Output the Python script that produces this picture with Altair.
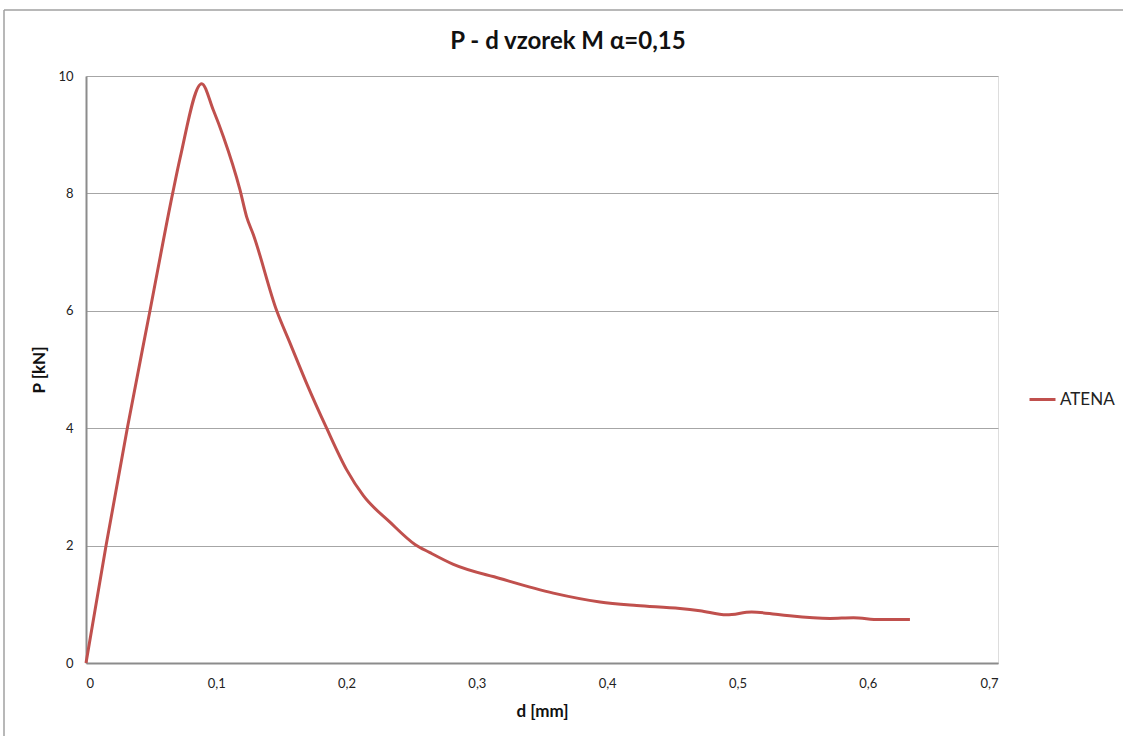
import altair as alt
import pandas as pd

# Data
d_mm = [0.0, 0.0154, 0.0317, 0.0491, 0.0665, 0.0722, 0.0888,
        0.0977, 0.1054, 0.1182, 0.1233, 0.1284, 0.1464, 0.1566, 0.1694,
        0.1847, 0.2001, 0.2129, 0.2333, 0.2525, 0.2640, 0.2820, 0.3177,
        0.3587, 0.3945, 0.4227, 0.4559, 0.4712, 0.4917, 0.5109, 0.5327,
        0.5710, 0.5890, 0.6090, 0.6324]
p_kn = [0.0, 2.0, 4.0, 6.0, 8.0, 8.6, 9.87,
        9.42, 8.97, 8.06, 7.6, 7.3, 6.0, 5.45, 4.76,
        4.0, 3.29, 2.85, 2.40, 2.02, 1.88, 1.68, 1.44,
        1.19, 1.04, 0.98, 0.93, 0.89, 0.82, 0.87, 0.82,
        0.76, 0.77, 0.74, 0.74]
series = ["ATENA"] * len(d_mm)

x_ticks = [0, 0.1, 0.2, 0.3, 0.4, 0.5, 0.6, 0.7]
y_ticks = [0, 2, 4, 6, 8, 10]
title_text = "P - d vzorek M α=0,15"

df = pd.DataFrame({"d": d_mm, "P": p_kn, "s": series})

FONT = "Lato"
W, H = 912, 587
L, T = 86, 76

line = alt.Chart(df).mark_line(strokeWidth=3, interpolate="monotone").encode(
    x=alt.X("d:Q", scale=alt.Scale(domain=[0, 0.7], nice=False),
            axis=alt.Axis(values=x_ticks, grid=False, ticks=False,
                          labelExpr="replace(format(datum.value, '.1~f'), '.', ',')",
                          labelFont=FONT, labelFontSize=13, labelColor="#222222",
                          labelPadding=14, domainColor="#8c8c8c", domainWidth=2,
                          title="d [mm]", titleFont=FONT, titleFontSize=17,
                          titleFontWeight="bold", titleColor="#111111",
                          titleY=40, titleBaseline="top")),
    y=alt.Y("P:Q", scale=alt.Scale(domain=[0, 10], nice=False),
            axis=alt.Axis(values=y_ticks, grid=True, gridColor="#a6a6a6",
                          gridWidth=1, ticks=False,
                          labelFont=FONT, labelFontSize=13, labelColor="#222222",
                          labelPadding=13, domainColor="#8c8c8c", domainWidth=2,
                          title="P [kN]", titleFont=FONT, titleFontSize=17,
                          titleFontWeight="bold", titleColor="#111111",
                          titleX=-38, titleY=H / 2, titleBaseline="bottom")),
    color=alt.Color("s:N", scale=alt.Scale(domain=["ATENA"], range=["#c0504d"]),
                    legend=alt.Legend(title=None, orient="none",
                                      legendX=1032 - L - 4, legendY=309,
                                      symbolType="stroke", symbolStrokeWidth=3,
                                      symbolSize=676, labelFont=FONT,
                                      labelFontSize=17, labelColor="#222222",
                                      labelOffset=3)),
)

border_top = alt.Chart(pd.DataFrame({"k": [0]})).mark_rule(
    color="#a0a0a0", strokeWidth=1.5).encode(
    x=alt.value(-L + 4), x2=alt.value(1123 - L), y=alt.value(10 - T))
border_left = alt.Chart(pd.DataFrame({"k": [0]})).mark_rule(
    color="#a0a0a0", strokeWidth=1.5).encode(
    x=alt.value(-L + 4), y=alt.value(10 - T), y2=alt.value(736 - T))

title = alt.Chart(pd.DataFrame({"t": [title_text]})).mark_text(
    font=FONT, fontSize=24, fontWeight="bold", color="#111111",
    align="center", baseline="middle").encode(
    x=alt.value(568 - L), y=alt.value(42 - T), text="t:N")

chart = alt.layer(border_top, border_left, title, line).properties(
    width=W, height=H,
    autosize=alt.AutoSizeParams(type="none"),
    padding={"left": L, "top": T, "right": 1123 - L - W, "bottom": 736 - T - H},
).configure_view(stroke=None).configure(background="white")

chart.save("out.html", embed_options={"renderer": "svg", "actions": False})
